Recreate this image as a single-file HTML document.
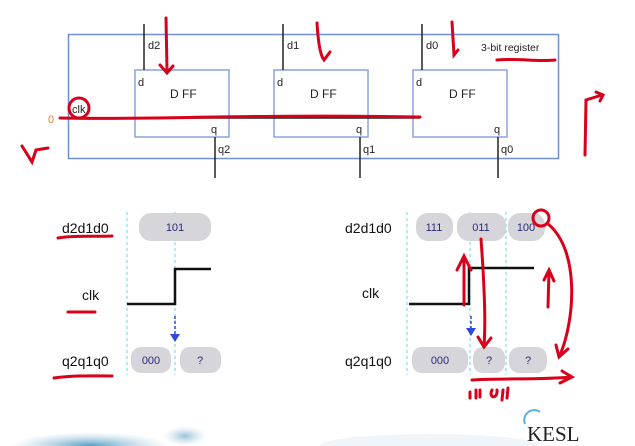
<!DOCTYPE html>
<html><head><meta charset="utf-8"><style>
html,body{margin:0;padding:0;background:#fff;width:635px;height:446px;overflow:hidden}
svg{display:block}
</style></head><body>
<svg width="635" height="446" viewBox="0 0 635 446" style="font-family:'Liberation Sans',sans-serif">
<defs>
<radialGradient id="bl" cx="0.5" cy="0.5" r="0.5"><stop offset="0" stop-color="#3f8fb8" stop-opacity="0.9"/><stop offset="1" stop-color="#9cc7dd" stop-opacity="0"/></radialGradient>
</defs>
<ellipse cx="90" cy="446" rx="80" ry="14" fill="url(#bl)"/>
<ellipse cx="185" cy="436" rx="22" ry="10" fill="url(#bl)" opacity="0.6"/>
<ellipse cx="430" cy="446" rx="110" ry="12" fill="#e4eff5" opacity="0.6"/>
<rect x="68.5" y="34.5" width="490" height="124" fill="none" stroke="#6f8fd8" stroke-width="1.5"/>
<g fill="none" stroke="#8aa2e0" stroke-width="1.5">
<rect x="135" y="70" width="94" height="67"/>
<rect x="274" y="70" width="94" height="67"/>
<rect x="413" y="70" width="94" height="67"/>
</g>
<g stroke="#222" stroke-width="1.5">
<line x1="144" y1="24" x2="144" y2="70"/><line x1="283" y1="24" x2="283" y2="70"/><line x1="422" y1="24" x2="422" y2="70"/>
<line x1="215" y1="137" x2="215" y2="178"/><line x1="360" y1="137" x2="360" y2="178"/><line x1="498" y1="137" x2="498" y2="178"/>
<line x1="61" y1="118" x2="420" y2="118"/>
</g>
<g font-size="11" fill="#222">
<text x="148" y="49">d2</text><text x="287" y="49">d1</text><text x="426" y="49">d0</text>
<text x="138" y="86">d</text><text x="277" y="86">d</text><text x="416" y="86">d</text>
<text x="170" y="98" font-size="12">D FF</text><text x="310" y="98" font-size="12">D FF</text><text x="449" y="98" font-size="12">D FF</text>
<text x="211" y="133">q</text><text x="356" y="133">q</text><text x="494" y="133">q</text>
<text x="218" y="153">q2</text><text x="363" y="153">q1</text><text x="501" y="153">q0</text>
<text x="72" y="113">clk</text>
<text x="481" y="51" font-size="10.5">3-bit register</text>
</g>
<text x="48" y="123" font-size="11" fill="#e07a30">0</text>
<g font-size="14" fill="#111">
<text x="62" y="233">d2d1d0</text><text x="82" y="300">clk</text><text x="62" y="366">q2q1q0</text>
<text x="345" y="233">d2d1d0</text><text x="362" y="298">clk</text><text x="345" y="366">q2q1q0</text>
</g>
<g stroke="#6cd0e0" stroke-width="1" stroke-dasharray="3,3">
<line x1="127" y1="212" x2="127" y2="375"/><line x1="175" y1="212" x2="175" y2="375"/>
<line x1="407" y1="212" x2="407" y2="375"/><line x1="470" y1="212" x2="470" y2="375"/><line x1="506" y1="212" x2="506" y2="375"/>
</g>
<g fill="#d6d6da">
<rect x="139" y="213" width="72" height="28" rx="12"/>
<rect x="131" y="347" width="40" height="26" rx="10"/><rect x="180" y="347" width="41" height="26" rx="10"/>
<rect x="416" y="213" width="37" height="28" rx="12"/><rect x="457" y="213" width="49" height="28" rx="12"/><rect x="508" y="213" width="37" height="28" rx="12"/>
<rect x="412" y="347" width="56" height="26" rx="10"/><rect x="473" y="347" width="32" height="26" rx="10"/><rect x="509" y="347" width="38" height="26" rx="10"/>
</g>
<g font-size="11" fill="#2a2a7a" text-anchor="middle">
<text x="175" y="231">101</text><text x="151" y="364">000</text><text x="200" y="364">?</text>
<text x="434" y="231">111</text><text x="481" y="231">011</text><text x="526" y="231">100</text>
<text x="440" y="364">000</text><text x="489" y="364">?</text><text x="528" y="364">?</text>
</g>
<g fill="none" stroke="#111" stroke-width="2.5">
<polyline points="127,304 175,304 175,269 211,269"/>
<polyline points="409,304 469,304 469,268 534,268"/>
</g>
<g stroke="#2a4ae0" stroke-width="1.5" stroke-dasharray="3,2"><line x1="175" y1="316" x2="175" y2="336"/><line x1="471" y1="316" x2="471" y2="330"/></g>
<polygon points="170,334 180,334 175,342" fill="#2a4ae0"/><polygon points="466,328 476,328 471,336" fill="#2a4ae0"/>
<g fill="none" stroke="#d8001a" stroke-width="3" stroke-linecap="round">
<path d="M60,118 C150,120 250,114 420,117"/>
<circle cx="79" cy="108" r="10"/>
<path d="M166,18 L167,70 M160,65 L167,73 L173,66"/>
<path d="M317,23 C318,40 320,55 324,60 L330,52"/>
<path d="M452,22 L454,55 L458,50"/>
<path d="M497,60 C520,58 535,62 555,60"/>
<path d="M22,146 L32,162 L36,150 L48,148"/>
<path d="M585,155 L586,100 L602,95 M596,92 L603,95 L600,101"/>
<path d="M58,238 C75,235 95,237 112,236"/><path d="M68,312 L95,312"/><path d="M54,378 C75,375 95,376 112,376"/>
<path d="M464,305 L464,258 M457,270 L464,256 L471,270"/>
<path d="M481,239 C484,280 486,320 484,345 M478,337 L484,347 L491,338"/>
<path d="M548,307 L549,270 M544,280 L549,270 L554,281"/>
<circle cx="541" cy="218" r="8"/>
<path d="M548,224 C580,250 575,320 560,355 M556,345 L559,357 L568,349"/>
<path d="M472,380 C500,378 540,380 572,377 M562,371 L572,377 L560,383"/>
<path d="M470,392 L470,398 M476,390 L476,398 M480,390 L480,397 M492,390 C488,398 498,400 497,390 M503,390 L502,400 M508,388 L507,398"/>
</g>
<path d="M525,424 A10,10 0 0 1 540,412" fill="none" stroke="#5aaede" stroke-width="2"/>
<text x="527" y="441" style="font-family:'Liberation Serif',serif" font-size="21" fill="#222">KESL</text>
</svg>
</body></html>
